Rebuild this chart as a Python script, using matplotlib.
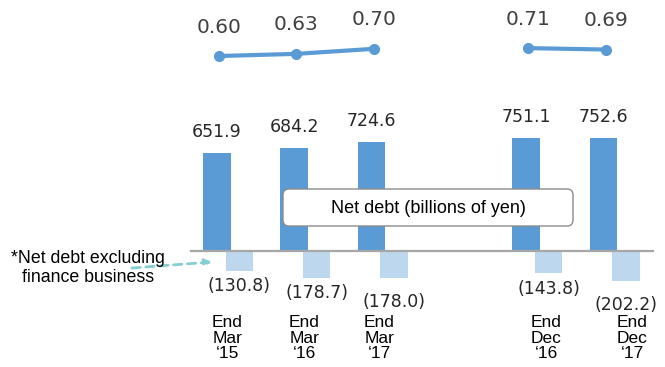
import numpy as np
import matplotlib
matplotlib.use("Agg")
import matplotlib.pyplot as plt
from matplotlib.patches import FancyBboxPatch
from matplotlib.transforms import IdentityTransform

# --------------------------
# Data
# --------------------------
periods = ["End\nMar\n\u201815", "End\nMar\n\u201816", "End\nMar\n\u201817",
           "End\nDec\n\u201816", "End\nDec\n\u201817"]
net_debt = [651.9, 684.2, 724.6, 751.1, 752.6]
net_debt_ex_fin = [-130.8, -178.7, -178.0, -143.8, -202.2]
de_ratio = [0.60, 0.63, 0.70, 0.71, 0.69]

# --------------------------
# Layout / style
# --------------------------
x_pos = np.array([0, 1, 2, 4, 5], dtype=float)   # gap between fiscal-year and calendar-year groups
bar_w = 0.356
off = 0.1455
dark = "#5b9bd5"
light = "#bdd7ee"
neg_pad = [15, 15, 24, 16, 24]        # px below light bars for the (xxx) labels
cat_nudge = [-0.01, -0.01, -0.04, 0.12, 0.23]

fig = plt.figure(figsize=(6.65, 3.67), dpi=100)
ax = fig.add_axes([0, 0, 1, 1])
ax.set_xlim(-2.950, 5.653)
ax.set_ylim(-773, 1673)
ax.axis("off")

ax.bar(x_pos - off, net_debt, width=bar_w, color=dark, zorder=2)
ax.bar(x_pos + off, net_debt_ex_fin, width=bar_w, color=light, zorder=2)
ax.axhline(0, xmin=0.287, xmax=0.982, color="#a6a6a6", lw=1.6, zorder=3)

for xp, v in zip(x_pos, net_debt):
    ax.annotate(f"{v:.1f}", (xp - off, v), xytext=(0, 21), textcoords="offset pixels",
                ha="center", va="center", fontsize=12.5, color="#262626")

for xp, v, pad in zip(x_pos, net_debt_ex_fin, neg_pad):
    ax.annotate(f"({-v:.1f})", (xp + off, v), xytext=(0, -pad), textcoords="offset pixels",
                ha="center", va="center", fontsize=12.5, color="#262626")

for xp, lab, nd in zip(x_pos, periods, cat_nudge):
    ax.text(xp + nd, 1 - 315 / 367, lab, transform=ax.get_xaxis_transform(), ha="center",
            va="top", fontsize=12.5, family="Liberation Sans", color="black", linespacing=1.05)

# --------------------------
# D/E ratio line (own scale)
# --------------------------
ax2 = ax.twinx()
ax2.set_ylim(-3.719, 1.378)
ax2.axis("off")
line_x = x_pos - off + 0.03
splits = np.where(np.diff(x_pos) > 1)[0] + 1
for seg_x, seg_y in zip(np.split(line_x, splits), np.split(np.array(de_ratio), splits)):
    ax2.plot(seg_x, seg_y, color=dark, lw=3, marker="o", ms=7, solid_capstyle="round")
for xp, v in zip(line_x, de_ratio):
    ax2.annotate(f"{v:.2f}", (xp, v), xytext=(0, 29), textcoords="offset pixels",
                 ha="center", va="center", fontsize=14.5, color="#404040")

# --------------------------
# Legend box and note
# --------------------------
box = FancyBboxPatch((283, 367 - 226), 290, 37, boxstyle="round,pad=0,rounding_size=6",
                     transform=IdentityTransform(), facecolor="white", edgecolor="#8c8c8c",
                     lw=1.0, zorder=5)
fig.patches.append(box)
fig.text(428 / 665, 1 - 208 / 367, "Net debt (billions of yen)", ha="center", va="center",
         fontsize=13, family="Liberation Sans", color="black", zorder=6)

fig.text(88 / 665, 1 - 268 / 367, "*Net debt excluding\nfinance business", ha="center",
         va="center", fontsize=12.8, family="Liberation Sans", color="black", linespacing=1.2)
ax.annotate("", xy=(212, 367 - 262), xycoords="figure pixels",
            xytext=(132, 367 - 268), textcoords="figure pixels",
            arrowprops=dict(arrowstyle="-|>", ls=(0, (3, 2)), lw=2, color="#86cfd0",
                            mutation_scale=10, shrinkA=0, shrinkB=0))

fig.savefig("out.png", dpi=100)
